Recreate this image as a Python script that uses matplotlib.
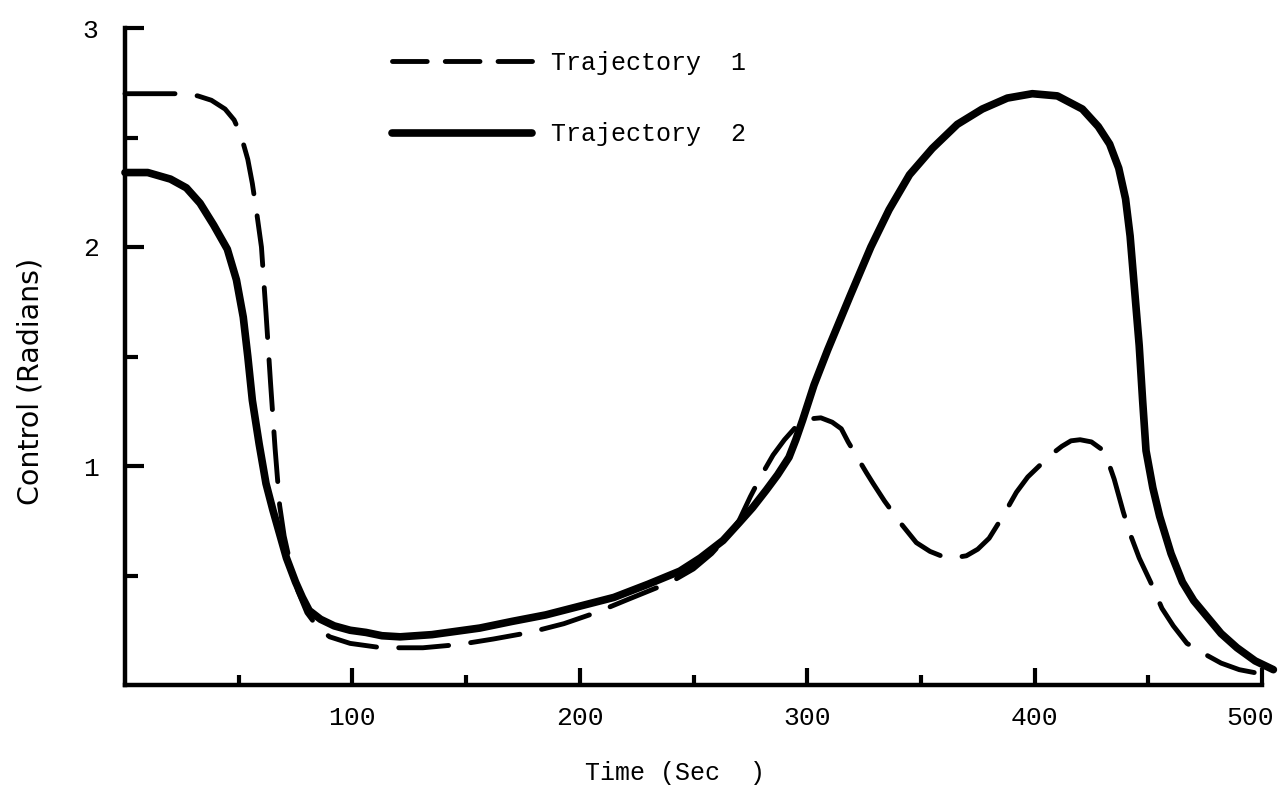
import numpy as np
import matplotlib
matplotlib.use("Agg")
import matplotlib.pyplot as plt
import matplotlib.transforms as mtransforms
from matplotlib.lines import Line2D
from matplotlib.ticker import FixedLocator

plt.rcParams['lines.scale_dashes'] = False

# Trajectory 1 (dashed)
t1 = [0, 15, 25, 32, 38, 44, 48, 51, 54, 56, 58, 60, 62, 64, 66, 68, 70, 73,
      76, 80, 85, 90, 99, 113, 131, 147, 162, 178, 193, 207, 221, 240, 250, 258,
      265, 270, 275, 280, 285, 290, 296, 301, 306, 311, 315, 318, 322, 326, 329,
      334, 341, 348, 354, 360, 364, 370, 375, 380, 386, 392, 397, 402, 407, 412,
      416, 420, 425, 429, 432, 435, 439, 442, 446, 451, 456, 461, 467, 475, 482,
      490, 500]
u1 = [2.70, 2.70, 2.70, 2.69, 2.67, 2.63, 2.58, 2.51, 2.40, 2.29, 2.15, 2.00,
      1.70, 1.38, 1.08, 0.82, 0.68, 0.54, 0.43, 0.33, 0.26, 0.22, 0.19, 0.17,
      0.17, 0.185, 0.21, 0.24, 0.28, 0.33, 0.39, 0.47, 0.53, 0.60, 0.68, 0.75,
      0.86, 0.96, 1.05, 1.12, 1.19, 1.215, 1.22, 1.20, 1.17, 1.11, 1.04, 0.97,
      0.92, 0.84, 0.74, 0.65, 0.61, 0.585, 0.58, 0.59, 0.62, 0.67, 0.77, 0.88,
      0.95, 1.00, 1.05, 1.09, 1.115, 1.12, 1.11, 1.08, 1.03, 0.94, 0.79, 0.69,
      0.58, 0.47, 0.35, 0.27, 0.19, 0.14, 0.10, 0.07, 0.05]

# Trajectory 2 (solid)
t2 = [0, 10, 20, 27, 33, 39, 45, 49, 52, 54, 56, 59, 62, 65, 68, 71, 75, 78,
      81, 86, 92, 99, 106, 113, 121, 135, 156, 170, 185, 200, 215, 230, 244, 253,
      263, 270, 276, 282, 287, 292, 295, 298, 303, 309, 319, 328, 336, 345, 355,
      366, 377, 388, 399, 410, 421, 428, 433, 437, 440, 442, 444, 446, 447.5, 449,
      452, 455, 460, 465, 470, 476, 482, 489, 497, 505]
u2 = [2.34, 2.34, 2.31, 2.27, 2.20, 2.10, 1.99, 1.85, 1.68, 1.50, 1.30, 1.10,
      0.92, 0.80, 0.69, 0.58, 0.47, 0.40, 0.34, 0.30, 0.27, 0.25, 0.24, 0.225,
      0.22, 0.23, 0.26, 0.29, 0.32, 0.36, 0.40, 0.46, 0.52, 0.58, 0.66, 0.74,
      0.81, 0.89, 0.96, 1.04, 1.12, 1.21, 1.37, 1.53, 1.78, 2.00, 2.17, 2.33,
      2.45, 2.56, 2.63, 2.68, 2.70, 2.69, 2.63, 2.55, 2.47, 2.36, 2.22, 2.05,
      1.80, 1.55, 1.30, 1.07, 0.90, 0.77, 0.60, 0.47, 0.385, 0.31, 0.235, 0.17,
      0.11, 0.07]

x_major = [100, 200, 300, 400, 500]
x_minor = [50, 150, 250, 350, 450]
y_major = [1, 2, 3]
y_minor = [0.5, 1.5, 2.5]
labels = ['Trajectory  1', 'Trajectory  2']

W, H = 1282, 789
fig = plt.figure(figsize=(W / 100, H / 100), dpi=100)
x0, x1 = 125, 125 + 507 * 2.274
y0, y1 = 685, 28
ax = fig.add_axes([x0 / W, (H - y0) / H, (x1 - x0) / W, (y0 - y1) / H])

ax.plot(t1, u1, color='black', lw=3.5, dashes=(36, 16), dash_capstyle='round',
        dash_joinstyle='round', clip_on=False)
ax.plot(t2, u2, color='black', lw=5.5, solid_capstyle='round',
        solid_joinstyle='round', clip_on=False)

ax.set_xlim(0, 507)
ax.set_ylim(0, 3)
for s in ['top', 'right']:
    ax.spines[s].set_visible(False)
ax.spines['left'].set_bounds(0, 3)
ax.spines['bottom'].set_bounds(0, 500)
for s in ['left', 'bottom']:
    ax.spines[s].set_linewidth(3.2)

ax.xaxis.set_major_locator(FixedLocator(x_major))
ax.xaxis.set_minor_locator(FixedLocator(x_minor))
ax.yaxis.set_major_locator(FixedLocator(y_major))
ax.yaxis.set_minor_locator(FixedLocator(y_minor))

tick_font = {'family': 'Liberation Mono', 'size': 19}
ax.set_xticklabels([str(v) for v in x_major], fontdict=tick_font)
ax.set_yticklabels([str(v) for v in y_major], fontdict=tick_font)
ax.tick_params(axis='x', which='major', direction='in', length=12, width=3, pad=15)
ax.tick_params(axis='x', which='minor', direction='in', length=7, width=3)
ax.tick_params(axis='y', which='major', direction='in', length=14, width=3, pad=19)
ax.tick_params(axis='y', which='minor', direction='in', length=9, width=3)

# the last x label sits a bit left of its tick in the scan
last = ax.get_xticklabels()[-1]
last.set_transform(last.get_transform() +
                   mtransforms.ScaledTranslation(-12 / 100, 0, fig.dpi_scale_trans))

fig.text(675 / W, 1 - 773 / H, 'Time (Sec  )', ha='center', va='center',
         family='Liberation Mono', fontsize=18)
fig.text(31 / W, 1 - 381 / H, 'Control (Radians)', ha='center', va='center',
         rotation=90, family='DejaVu Sans', fontsize=20.5)

# legend keys: the scan shows three short dashes in the key
handles = [Line2D([], [], color='black', lw=3.5, dashes=(25, 13),
                  dash_capstyle='round'),
           Line2D([], [], color='black', lw=5.5, solid_capstyle='round')]
leg = ax.legend(handles, labels, loc='upper left',
                bbox_to_anchor=(392 / W, 1 - 51 / H),
                bbox_transform=fig.transFigure, frameon=False, borderpad=0,
                borderaxespad=0, handlelength=5.6, handletextpad=0.75,
                labelspacing=1.9, prop={'family': 'Liberation Mono', 'size': 18})

fig.savefig('out.png', dpi=100)
